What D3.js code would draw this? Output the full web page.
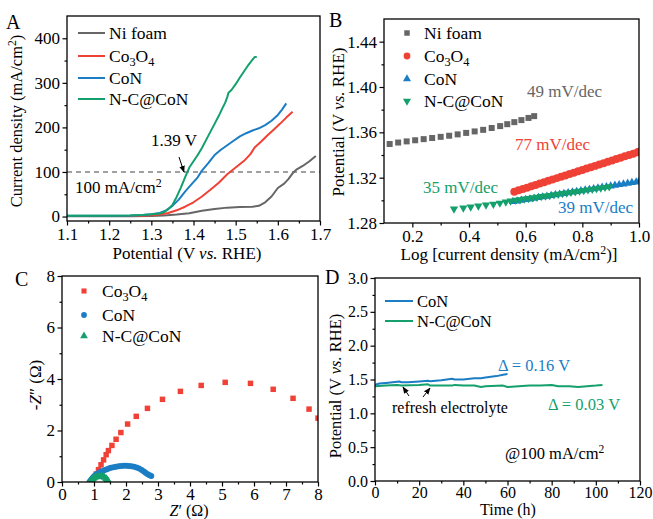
<!DOCTYPE html>
<html>
<head>
<meta charset="utf-8">
<script src="https://cdn.jsdelivr.net/npm/d3@7"></script>
<style>
  body { margin: 0; background: #fff; }
</style>
</head>
<body>
<svg id="fig" width="653" height="519"></svg>
<script>
// ---- colours
const cGray = "#666666", cRed = "#ef4136", cBlue = "#1b7dc4", cGreen = "#13a06c";

// ---- panel A: LSV curves [potential V, current density mA/cm2]
const lsvNi = [[1.10,0.5],[1.15,0.5],[1.20,0.6],[1.25,0.8],[1.30,1.2],[1.33,2.5],[1.36,4.5],[1.39,7.5],[1.42,13],[1.45,17],[1.48,20],[1.51,21.5],[1.54,22],[1.555,24],[1.57,32],[1.585,45],[1.60,64],[1.615,74],[1.625,84],[1.635,97],[1.645,106],[1.66,114],[1.675,124],[1.69,136]];
const lsvCo3O4 = [[1.10,1],[1.20,1.2],[1.25,1.5],[1.28,2],[1.30,3],[1.32,4.5],[1.34,8],[1.36,14],[1.38,22],[1.40,32],[1.42,45],[1.44,60],[1.46,76],[1.48,95],[1.50,110],[1.52,125],[1.535,140],[1.545,155],[1.56,168],[1.575,182],[1.59,195],[1.605,208],[1.62,222],[1.635,235]];
const lsvCoN = [[1.10,1.5],[1.20,2],[1.25,2.5],[1.28,3.5],[1.30,5],[1.32,8],[1.335,14],[1.35,24],[1.365,38],[1.38,56],[1.395,72],[1.41,88],[1.42,103],[1.435,120],[1.45,138],[1.465,150],[1.48,160],[1.495,170],[1.51,180],[1.525,187],[1.54,193],[1.555,198],[1.57,205],[1.585,215],[1.60,228],[1.61,240],[1.62,254]];
const lsvNC = [[1.10,1.5],[1.20,2],[1.25,2.5],[1.28,3.5],[1.30,5],[1.32,7],[1.33,10],[1.34,16],[1.35,26],[1.36,44],[1.37,65],[1.38,88],[1.39,110],[1.40,124],[1.41,138],[1.42,154],[1.43,172],[1.44,190],[1.45,208],[1.46,226],[1.47,246],[1.475,255],[1.48,268],[1.483,278],[1.49,284],[1.50,297],[1.51,312],[1.52,326],[1.53,340],[1.54,352],[1.545,358],[1.55,358]];

// ---- panel B: Tafel [log j, potential]
const tafNi = [[0.12,1.3497],[0.15,1.3510],[0.18,1.3520],[0.21,1.3530],[0.24,1.3540],[0.27,1.3550],[0.30,1.3560],[0.33,1.3570],[0.36,1.3582],[0.39,1.3595],[0.42,1.3608],[0.45,1.3622],[0.48,1.3638],[0.51,1.3655],[0.535,1.3672],[0.56,1.3690],[0.585,1.3708],[0.61,1.3727],[0.63,1.3743]];
const tafCo3O4 = [[0.56,1.3076],[0.575,1.3088],[0.59,1.3100],[0.605,1.3112],[0.62,1.3124],[0.635,1.3136],[0.65,1.3148],[0.665,1.3160],[0.68,1.3172],[0.695,1.3184],[0.71,1.3196],[0.725,1.3208],[0.74,1.3220],[0.755,1.3232],[0.77,1.3244],[0.785,1.3256],[0.80,1.3268],[0.815,1.3280],[0.83,1.3292],[0.845,1.3304],[0.86,1.3316],[0.875,1.3328],[0.89,1.3340],[0.905,1.3352],[0.92,1.3364],[0.935,1.3376],[0.95,1.3388],[0.965,1.3400],[0.98,1.3412],[0.995,1.3424],[1.0,1.3428]];
const tafCoN = [[0.555,1.2988],[0.57,1.2994],[0.585,1.3000],[0.60,1.3006],[0.615,1.3012],[0.63,1.3018],[0.645,1.3024],[0.66,1.3030],[0.675,1.3036],[0.69,1.3042],[0.705,1.3048],[0.72,1.3054],[0.735,1.3060],[0.75,1.3066],[0.765,1.3072],[0.78,1.3078],[0.795,1.3084],[0.81,1.3090],[0.825,1.3096],[0.84,1.3102],[0.855,1.3108],[0.87,1.3114],[0.885,1.3120],[0.90,1.3126],[0.915,1.3132],[0.93,1.3138],[0.945,1.3144],[0.96,1.3150],[0.975,1.3156],[0.99,1.3162],[1.0,1.3165]];
const tafNC = [[0.347,1.2925],[0.380,1.2933],[0.406,1.2942],[0.433,1.2950],[0.460,1.2959],[0.486,1.2967],[0.509,1.2976],[0.530,1.2986],[0.547,1.2994],[0.565,1.3001],[0.58,1.3006],[0.595,1.3012],[0.61,1.3017],[0.625,1.3023],[0.64,1.3028],[0.655,1.3034],[0.67,1.3039],[0.685,1.3044],[0.70,1.3050],[0.715,1.3055],[0.73,1.3061],[0.745,1.3066],[0.76,1.3071],[0.775,1.3077],[0.79,1.3082],[0.805,1.3088],[0.82,1.3093],[0.835,1.3098],[0.85,1.3104],[0.865,1.3109],[0.88,1.3115],[0.895,1.3120]];

// ---- panel C: Nyquist [Z', -Z'']
const eisCo3O4 = [[0.91,0.02],[0.99,0.15],[1.07,0.31],[1.14,0.48],[1.22,0.67],[1.30,0.86],[1.38,1.06],[1.45,1.22],[1.56,1.42],[1.69,1.66],[1.84,1.92],[2.05,2.25],[2.32,2.55],[2.67,2.86],[3.14,3.21],[3.70,3.52],[4.35,3.75],[5.10,3.87],[5.89,3.83],[6.60,3.60],[7.22,3.25],[7.72,2.83],[8.0,2.48]];
const eisCoN = [[0.86,0.0],[0.89,0.05],[0.92,0.1],[0.95,0.15],[0.99,0.2],[1.03,0.25],[1.08,0.3],[1.13,0.34],[1.19,0.38],[1.25,0.42],[1.32,0.46],[1.39,0.49],[1.46,0.52],[1.53,0.55],[1.61,0.57],[1.69,0.59],[1.77,0.61],[1.85,0.62],[1.93,0.63],[2.01,0.63],[2.09,0.62],[2.17,0.61],[2.25,0.59],[2.33,0.56],[2.41,0.52],[2.49,0.47],[2.56,0.41],[2.62,0.35],[2.68,0.3],[2.74,0.26],[2.79,0.23]];
const eisNC = [[0.88,0.0],[0.9,0.04],[0.93,0.08],[0.96,0.12],[1.0,0.16],[1.05,0.19],[1.1,0.21],[1.16,0.22],[1.22,0.22],[1.28,0.21],[1.33,0.18],[1.38,0.13],[1.42,0.07],[1.45,0.02]];

// ---- panel D: stability [time h, potential V]
const stabCoN = [[0,1.42],[2,1.44],[5,1.45],[8,1.46],[11,1.47],[12,1.46],[15,1.46],[20,1.47],[24,1.48],[25,1.475],[30,1.49],[35,1.51],[36,1.50],[40,1.50],[45,1.52],[48,1.52],[50,1.53],[55,1.55],[58,1.57],[60,1.58]];
const stabNC = [[0,1.40],[5,1.41],[10,1.42],[12,1.41],[20,1.42],[24,1.43],[25,1.41],[30,1.41],[35,1.41],[36,1.42],[40,1.41],[45,1.41],[48,1.39],[50,1.40],[58,1.41],[60,1.39],[65,1.40],[70,1.41],[75,1.41],[80,1.42],[83,1.40],[88,1.40],[92,1.39],[96,1.40],[100,1.41],[103,1.42]];

// ---- tick values
const aXMajor = [1.1,1.2,1.3,1.4,1.5,1.6,1.7], aXMinor = [1.15,1.25,1.35,1.45,1.55,1.65];
const aYMajor = [0,100,200,300,400], aYMinor = [50,150,250,350];
const bXMajor = [0.2,0.4,0.6,0.8,1.0], bXMinor = [0.3,0.5,0.7,0.9];
const bYMajor = [1.28,1.32,1.36,1.40,1.44], bYMinor = [1.30,1.34,1.38,1.42];
const cXMajor = [0,1,2,3,4,5,6,7,8], cXMinor = [0.5,1.5,2.5,3.5,4.5,5.5,6.5,7.5];
const cYMajor = [0,2,4,6,8], cYMinor = [1,3,5,7];
const dXMajor = [0,20,40,60,80,100,120], dXMinor = [10,30,50,70,90,110];
const dYMajor = [0,0.5,1.0,1.5,2.0,2.5,3.0], dYMinor = [0.25,0.75,1.25,1.75,2.25,2.75];

const FONT = "'Liberation Serif', 'Times New Roman', Times, serif";
const svg = d3.select("#fig").attr("font-family", FONT);
const defs = svg.append("defs");
defs.append("marker").attr("id", "arr").attr("viewBox", "0 0 10 10")
  .attr("refX", 9).attr("refY", 5).attr("markerWidth", 7).attr("markerHeight", 7)
  .attr("orient", "auto")
  .append("path").attr("d", "M0,1 L10,5 L0,9 Z").attr("fill", "#000");

// text with sub/superscripts and italics; parts = [[string, kind], ...]
function rich(sel, parts, fs) {
  let shift = 0;
  parts.forEach(function(p) {
    const t = sel.append("tspan").text(p[0]);
    let target = 0;
    if (p[1] === "sub") { target = fs * 0.22; t.attr("font-size", fs * 0.7); }
    if (p[1] === "sup") { target = -fs * 0.38; t.attr("font-size", fs * 0.7); }
    if (p[1] === "it") t.attr("font-style", "italic");
    if (target !== shift) { t.attr("dy", target - shift); shift = target; }
  });
}

function label(x, y, parts, opts) {
  opts = opts || {};
  const fs = opts.fs || 17;
  const t = svg.append("text")
    .attr("x", x).attr("y", y)
    .attr("font-family", FONT)
    .attr("font-size", fs)
    .attr("fill", opts.fill || "#000")
    .attr("text-anchor", opts.anchor || "start");
  if (opts.rotate) t.attr("x", 0).attr("y", 0).attr("transform", `translate(${x},${y}) rotate(-90)`);
  if (typeof parts === "string") t.text(parts); else rich(t, parts, fs);
  return t;
}

function styleAxis(a, fs) {
  a.select(".domain").remove();
  a.attr("font-family", FONT).attr("font-size", fs);
  a.selectAll(".tick line").attr("stroke", "#000").attr("stroke-width", 1.2);
  a.selectAll(".tick text").attr("fill", "#000");
}

// builds a framed panel with outward major and minor ticks
function makePanel(o) {
  const x = d3.scaleLinear().domain(o.xd).range([o.l, o.r]);
  const y = d3.scaleLinear().domain(o.yd).range([o.b, o.t]);
  const g = svg.append("g");
  const fs = o.fs || 17;
  defs.append("clipPath").attr("id", "clip" + o.name)
    .append("rect").attr("x", o.l).attr("y", o.t).attr("width", o.r - o.l).attr("height", o.b - o.t);

  g.append("g").attr("transform", `translate(0,${o.b})`)
    .call(d3.axisBottom(x).tickValues(o.xMinor).tickSize(2.5).tickFormat(""))
    .call(styleAxis, fs);
  g.append("g").attr("transform", `translate(0,${o.b})`)
    .call(d3.axisBottom(x).tickValues(o.xMajor).tickSize(4.5).tickPadding(o.xPad || 2.5).tickFormat(d3.format(o.xFmt)))
    .call(styleAxis, fs);
  g.append("g").attr("transform", `translate(${o.l},0)`)
    .call(d3.axisLeft(y).tickValues(o.yMinor).tickSize(2.5).tickFormat(""))
    .call(styleAxis, fs);
  g.append("g").attr("transform", `translate(${o.l},0)`)
    .call(d3.axisLeft(y).tickValues(o.yMajor).tickSize(4.5).tickPadding(2.5).tickFormat(d3.format(o.yFmt)))
    .call(styleAxis, fs);

  const plot = g.append("g").attr("clip-path", `url(#clip${o.name})`);
  g.append("rect")
    .attr("x", o.l).attr("y", o.t).attr("width", o.r - o.l).attr("height", o.b - o.t)
    .attr("fill", "none").attr("stroke", "#000").attr("stroke-width", 1.3);
  return { x: x, y: y, plot: plot };
}

function drawLine(p, data, color) {
  const line = d3.line().x(function(d) { return p.x(d[0]); }).y(function(d) { return p.y(d[1]); });
  p.plot.append("path").datum(data).attr("d", line)
    .attr("fill", "none").attr("stroke", color).attr("stroke-width", 2).attr("stroke-linejoin", "round");
}

function drawPoints(p, data, color, type, size, rot) {
  const sym = d3.symbol().type(type).size(size);
  p.plot.selectAll(null).data(data).join("path")
    .attr("d", sym)
    .attr("transform", function(d) { return `translate(${p.x(d[0])},${p.y(d[1])})` + (rot ? " rotate(180)" : ""); })
    .attr("fill", color);
}

function legendSym(x, y, color, type, size, rot) {
  svg.append("path").attr("d", d3.symbol().type(type).size(size)())
    .attr("transform", `translate(${x},${y})` + (rot ? " rotate(180)" : ""))
    .attr("fill", color);
}

const co3o4 = [["Co",""],["3","sub"],["O",""],["4","sub"]];
const potTitle = [["Potential (V ",""],["vs.","it"],[" RHE)",""]];

// ================= A
const pA = makePanel({ name: "A", l: 67, r: 320, t: 16, b: 221, xd: [1.1, 1.7], yd: [-10, 450],
  xMajor: aXMajor, xMinor: aXMinor, yMajor: aYMajor, yMinor: aYMinor, xFmt: ".1f", yFmt: "d" });
pA.plot.append("line").attr("x1", pA.x(1.1)).attr("x2", pA.x(1.7)).attr("y1", pA.y(100)).attr("y2", pA.y(100))
  .attr("stroke", "#444").attr("stroke-width", 1.2).attr("stroke-dasharray", "5,4");
drawLine(pA, lsvNi, cGray);
drawLine(pA, lsvCo3O4, cRed);
drawLine(pA, lsvCoN, cBlue);
drawLine(pA, lsvNC, cGreen);

const legA = [["Ni foam", cGray], [co3o4, cRed], ["CoN", cBlue], ["N-C@CoN", cGreen]];
const legAY = [33, 56, 78, 99];
legA.forEach(function(d, i) {
  svg.append("line").attr("x1", 78).attr("x2", 105).attr("y1", legAY[i]).attr("y2", legAY[i])
    .attr("stroke", d[1]).attr("stroke-width", 2);
  label(109, legAY[i] + 6, d[0], { fs: 17.5 });
});
label(151, 146, "1.39 V");
svg.append("line").attr("x1", 179).attr("y1", 157).attr("x2", 184).attr("y2", 172)
  .attr("stroke", "#000").attr("stroke-width", 1).attr("marker-end", "url(#arr)");
label(75, 193, [["100 mA/cm",""],["2","sup"]]);
label(22, 121, [["Current density (mA/cm",""],["2","sup"],[")",""]], { rotate: true, anchor: "middle", fs: 16.5 });
label(187, 259, potTitle, { anchor: "middle" });
label(6, 29, "A", { fs: 20 });

// ================= B
const pB = makePanel({ name: "B", l: 384, r: 639, t: 19, b: 223, xd: [0.1, 1.0], yd: [1.28, 1.46],
  xMajor: bXMajor, xMinor: bXMinor, yMajor: bYMajor, yMinor: bYMinor, xFmt: ".1f", yFmt: ".2f" });
drawPoints(pB, tafNi, cGray, d3.symbolSquare, 36);
drawPoints(pB, tafCo3O4, cRed, d3.symbolCircle, 50);
drawPoints(pB, tafCoN, cBlue, d3.symbolTriangle, 30);
drawPoints(pB, tafNC, cGreen, d3.symbolTriangle, 30, true);

const legBY = [33, 56, 79, 101];
legendSym(407, legBY[0], cGray, d3.symbolSquare, 30);
legendSym(407, legBY[1], cRed, d3.symbolCircle, 36);
legendSym(407, legBY[2], cBlue, d3.symbolTriangle, 28);
legendSym(407, legBY[3], cGreen, d3.symbolTriangle, 28, true);
label(424, legBY[0] + 6, "Ni foam", { fs: 17.5 });
label(424, legBY[1] + 6, co3o4, { fs: 17.5 });
label(424, legBY[2] + 6, "CoN", { fs: 17.5 });
label(424, legBY[3] + 6, "N-C@CoN", { fs: 17.5 });
label(527, 97, "49 mV/dec", { fill: cGray });
label(515, 150, "77 mV/dec", { fill: cRed });
label(423, 193, "35 mV/dec", { fill: cGreen });
label(558, 213, "39 mV/dec", { fill: cBlue });
label(344, 122, potTitle, { rotate: true, anchor: "middle" });
label(509, 260, [["Log [current density (mA/cm",""],["2","sup"],[")]",""]], { anchor: "middle" });
label(329, 27, "B", { fs: 20 });

// ================= C
const pC = makePanel({ name: "C", l: 62, r: 318, t: 276, b: 482, xd: [0, 8], yd: [0, 8], xPad: 1.5,
  xMajor: cXMajor, xMinor: cXMinor, yMajor: cYMajor, yMinor: cYMinor, xFmt: "d", yFmt: "d" });
drawPoints(pC, eisCo3O4, cRed, d3.symbolSquare, 30);
drawPoints(pC, eisCoN, cBlue, d3.symbolCircle, 28);
drawPoints(pC, eisNC, cGreen, d3.symbolTriangle, 28);

const legCY = [291, 315, 336];
legendSym(84, legCY[0], cRed, d3.symbolSquare, 26);
legendSym(84, legCY[1], cBlue, d3.symbolCircle, 26);
legendSym(84, legCY[2], cGreen, d3.symbolTriangle, 26);
label(102, legCY[0] + 6, co3o4, { fs: 17.5 });
label(102, legCY[1] + 6, "CoN", { fs: 17.5 });
label(102, legCY[2] + 6, "N-C@CoN", { fs: 17.5 });
label(41, 385, [["-",""],["Z","it"],["\u2033 (\u03A9)",""]], { rotate: true, anchor: "middle" });
label(189, 516, [["Z","it"],["\u2032 (\u03A9)",""]], { anchor: "middle", fs: 16 });
label(15, 286, "C", { fs: 20 });

// ================= D
const pD = makePanel({ name: "D", l: 375, r: 640, t: 278, b: 481, xd: [0, 120], yd: [0, 3], fs: 16, xPad: 1.5,
  xMajor: dXMajor, xMinor: dXMinor, yMajor: dYMajor, yMinor: dYMinor, xFmt: "d", yFmt: ".1f" });
drawLine(pD, stabNC, cGreen);
drawLine(pD, stabCoN, cBlue);

const legD = [["CoN", cBlue], ["N-C@CoN", cGreen]];
const legDY = [301, 321];
legD.forEach(function(d, i) {
  svg.append("line").attr("x1", 385).attr("x2", 413).attr("y1", legDY[i]).attr("y2", legDY[i])
    .attr("stroke", d[1]).attr("stroke-width", 2);
  label(417, legDY[i] + 5.5, d[0], { fs: 16.5 });
});
label(498, 371, "\u0394 = 0.16 V", { fill: cBlue, fs: 16.5 });
label(548, 410, "\u0394 = 0.03 V", { fill: cGreen, fs: 16.5 });
label(392, 413, "refresh electrolyte", { fs: 16 });
svg.append("line").attr("x1", 409).attr("y1", 396).attr("x2", 403).attr("y2", 387)
  .attr("stroke", "#000").attr("stroke-width", 1).attr("marker-end", "url(#arr)");
svg.append("line").attr("x1", 423).attr("y1", 397).attr("x2", 430).attr("y2", 388)
  .attr("stroke", "#000").attr("stroke-width", 1).attr("marker-end", "url(#arr)");
label(505, 459, [["@100 mA/cm",""],["2","sup"]], { fs: 16.5 });
label(341, 386, potTitle, { rotate: true, anchor: "middle", fs: 16.5 });
label(508, 515, "Time (h)", { anchor: "middle", fs: 16 });
label(325, 284, "D", { fs: 20 });
</script>
</body>
</html>
